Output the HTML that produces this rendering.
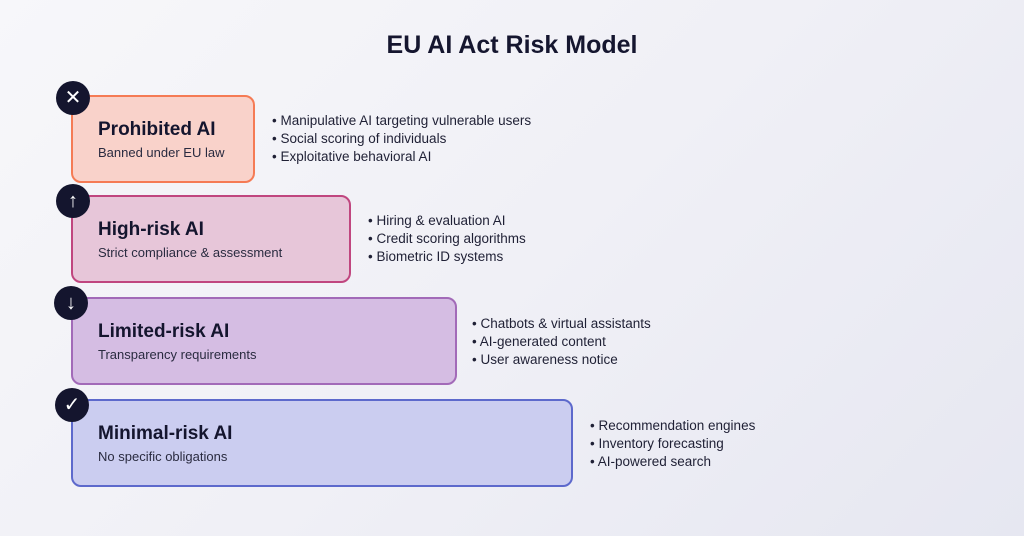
<!DOCTYPE html>
<html><head><meta charset="utf-8"><style>
body{margin:0;width:1024px;height:536px;overflow:hidden;background:linear-gradient(135deg,#f7f7fa 0%,#f0f0f6 50%,#e6e7f1 100%);font-family:"Liberation Sans",sans-serif;color:#14152e;position:relative}
.t{position:absolute;left:0;width:1024px;top:31px;text-align:center;font-size:25px;font-weight:bold;color:#15162f}
.b{position:absolute;left:71px;height:88px;border-radius:10px;border:2px solid;box-sizing:border-box}
.b h{display:block;position:absolute;left:25px;top:22px;font-size:19px;font-weight:bold}
.b s{text-decoration:none;position:absolute;left:25px;top:48px;font-size:13px;color:#2a2b40}
.c{position:absolute;width:34px;height:34px;border-radius:50%;background:#14152e;color:#fff;text-align:center;line-height:34px;font-size:20px}
.l{position:absolute;font-size:13.5px;line-height:18px;color:#1f2035}
</style></head><body>
<div class="t">EU AI Act Risk Model</div>
<div class="b" style="top:95px;width:184px;background:#f9d2ca;border-color:#f57b55"><h>Prohibited AI</h><s>Banned under EU law</s></div>
<div class="b" style="top:195px;width:280px;background:#e7c6d9;border-color:#c0467f"><h>High-risk AI</h><s>Strict compliance &amp; assessment</s></div>
<div class="b" style="top:297px;width:386px;background:#d5bde3;border-color:#a26ab8"><h>Limited-risk AI</h><s>Transparency requirements</s></div>
<div class="b" style="top:399px;width:502px;background:#cbcdf0;border-color:#5d69cc"><h>Minimal-risk AI</h><s>No specific obligations</s></div>
<div class="c" style="left:56px;top:81px">✕</div>
<div class="c" style="left:56px;top:184px">↑</div>
<div class="c" style="left:54px;top:286px">↓</div>
<div class="c" style="left:55px;top:388px">✓</div>
<div class="l" style="left:272px;top:112px">• Manipulative AI targeting vulnerable users<br>• Social scoring of individuals<br>• Exploitative behavioral AI</div>
<div class="l" style="left:368px;top:212px">• Hiring &amp; evaluation AI<br>• Credit scoring algorithms<br>• Biometric ID systems</div>
<div class="l" style="left:472px;top:315px">• Chatbots &amp; virtual assistants<br>• AI-generated content<br>• User awareness notice</div>
<div class="l" style="left:590px;top:417px">• Recommendation engines<br>• Inventory forecasting<br>• AI-powered search</div>
</body></html>
